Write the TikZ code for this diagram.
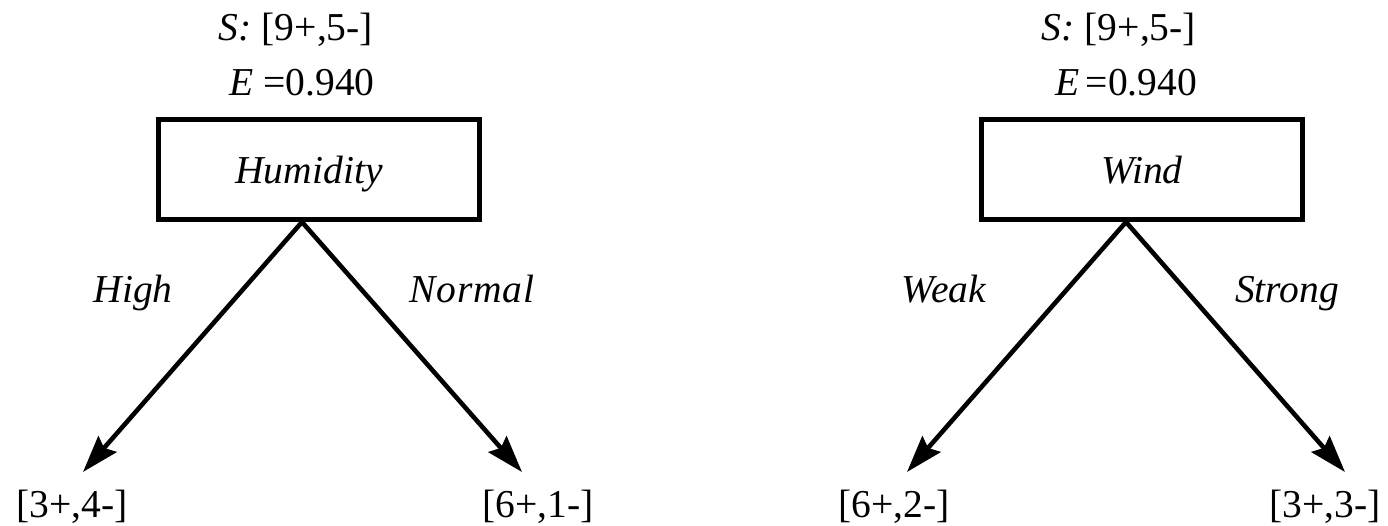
\documentclass[tikz,border=0pt]{standalone}
\usepackage{fontspec}
\setmainfont{Liberation Serif}
\usepackage{tikz}
\usetikzlibrary{arrows.meta,positioning}
\tikzset{
  attr/.style={draw=black,line width=3pt,minimum width=6.42cm,minimum height=2.0cm,
    font=\fontsize{22.5}{27}\selectfont\itshape,text depth=0pt,inner sep=0pt},
  cnt/.style={font=\fontsize{22.5}{27}\selectfont,anchor=base,inner sep=0pt},
  lbl/.style={cnt,font=\fontsize{22.5}{27}\selectfont\itshape},
  arr/.style={-{Stealth[length=7.4mm,width=4.8mm,inset=1mm]},line width=2.6pt,shorten <=-1pt},
}
\begin{document}
\begin{tikzpicture}[x=1cm,y=1cm]
  \useasboundingbox (0,0) rectangle (27.76,-10.5);
  % humidity split
  \node[cnt] (hs) at (5.92,-0.80) {\textit{S:} [9+,5-]};
  \node[cnt] (he) at (6.04,-1.90) {\textit{E} =0.940};
  \coordinate (hroot) at (6.04,-4.44);
  \node[attr,above=0pt of hroot,xshift=0.34cm] (hum) {\hspace*{-0.4cm}Humidity};
  \coordinate (htipl) at (1.66,-9.44);
  \coordinate (htipr) at (10.44,-9.44);
  \node[cnt] (hhigh) at (1.44,-10.34) {[3+,4-]};
  \node[cnt] (hnorm) at (10.76,-10.34) {[6+,1-]};
  \node[lbl] (lhigh) at (2.66,-6.04) {High};
  \node[lbl] (lnorm) at (9.44,-6.04) {N\kern0.5pt o\kern0.5pt r\kern0.5pt m\kern0.5pt a\kern0.5pt l};
  \draw[arr] (hroot) -- (htipl);
  \draw[arr] (hroot) -- (htipr);
  % wind split
  \node[cnt] (ws) at (22.38,-0.80) {\textit{S:} [9+,5-]};
  \node[cnt] (we) at (22.52,-1.90) {\textit{E}\,=0.940};
  \coordinate (wroot) at (22.52,-4.44);
  \node[attr,above=0pt of wroot,xshift=0.32cm] (wind) {Wind};
  \coordinate (wtipl) at (18.14,-9.44);
  \coordinate (wtipr) at (26.90,-9.44);
  \node[cnt] (wweak) at (17.88,-10.34) {[6+,2-]};
  \node[cnt] (wstrong) at (26.50,-10.34) {[3+,3-]};
  \node[lbl] (lweak) at (18.88,-6.04) {Weak};
  \node[lbl] (lstrong) at (25.74,-6.04) {Strong};
  \draw[arr] (wroot) -- (wtipl);
  \draw[arr] (wroot) -- (wtipr);
\end{tikzpicture}
\end{document}
